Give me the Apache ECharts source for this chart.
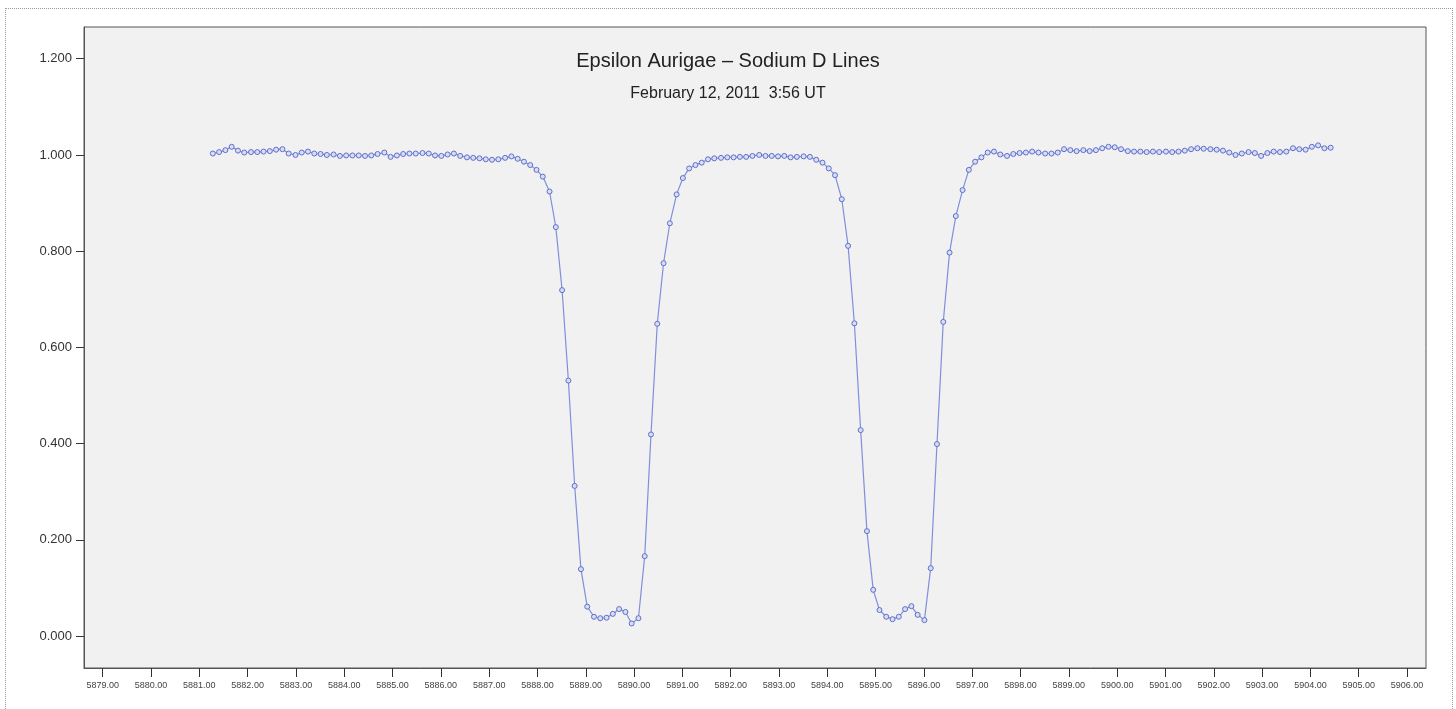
<!DOCTYPE html>
<html>
<head>
<meta charset="utf-8">
<script src="https://cdn.jsdelivr.net/npm/echarts@6/dist/echarts.min.js"></script>
<style>
  html, body { margin: 0; padding: 0; background: #ffffff; }
  #chart { position: absolute; left: 0; top: 0; width: 1456px; height: 709px; }
  #frame { position: absolute; left: 5px; top: 8px; width: 1446px; height: 705px; border: 1px dotted #9a9a9a; pointer-events: none; }
</style>
</head>
<body>
<div id="chart"></div>
<div id="frame"></div>
<script>
const titleText = 'Epsilon Aurigae – Sodium D Lines';
const subtitleText = 'February 12, 2011  3:56 UT';

const xTicks = [5879, 5880, 5881, 5882, 5883, 5884, 5885, 5886, 5887, 5888, 5889, 5890, 5891, 5892, 5893,
  5894, 5895, 5896, 5897, 5898, 5899, 5900, 5901, 5902, 5903, 5904, 5905, 5906];
const yTicks = [0, 0.2, 0.4, 0.6, 0.8, 1.0, 1.2];

const wavelengths = [
  5881.28, 5881.41, 5881.54, 5881.67, 5881.80, 5881.93, 5882.07, 5882.20, 5882.33, 5882.46,
  5882.59, 5882.72, 5882.85, 5882.99, 5883.12, 5883.25, 5883.38, 5883.51, 5883.64, 5883.78,
  5883.91, 5884.04, 5884.17, 5884.30, 5884.43, 5884.56, 5884.69, 5884.83, 5884.96, 5885.09,
  5885.22, 5885.35, 5885.48, 5885.62, 5885.75, 5885.88, 5886.01, 5886.14, 5886.27, 5886.40,
  5886.54, 5886.67, 5886.80, 5886.93, 5887.06, 5887.19, 5887.33, 5887.46, 5887.59, 5887.72,
  5887.85, 5887.98, 5888.11, 5888.25, 5888.38, 5888.51, 5888.64, 5888.77, 5888.90, 5889.03,
  5889.17, 5889.30, 5889.43, 5889.56, 5889.69, 5889.82, 5889.95, 5890.09, 5890.22, 5890.35,
  5890.48, 5890.61, 5890.74, 5890.88, 5891.01, 5891.14, 5891.27, 5891.40, 5891.53, 5891.66,
  5891.80, 5891.93, 5892.06, 5892.19, 5892.32, 5892.45, 5892.59, 5892.72, 5892.85, 5892.98,
  5893.11, 5893.24, 5893.37, 5893.51, 5893.64, 5893.77, 5893.90, 5894.03, 5894.16, 5894.30,
  5894.43, 5894.56, 5894.69, 5894.82, 5894.95, 5895.08, 5895.22, 5895.35, 5895.48, 5895.61,
  5895.74, 5895.87, 5896.01, 5896.14, 5896.27, 5896.40, 5896.53, 5896.66, 5896.80, 5896.93,
  5897.06, 5897.19, 5897.32, 5897.45, 5897.58, 5897.72, 5897.85, 5897.98, 5898.11, 5898.24,
  5898.37, 5898.51, 5898.64, 5898.77, 5898.90, 5899.03, 5899.16, 5899.30, 5899.43, 5899.56,
  5899.69, 5899.82, 5899.95, 5900.08, 5900.22, 5900.35, 5900.48, 5900.61, 5900.74, 5900.87,
  5901.01, 5901.14, 5901.27, 5901.40, 5901.53, 5901.66, 5901.79, 5901.93, 5902.06, 5902.19,
  5902.32, 5902.45, 5902.58, 5902.72, 5902.85, 5902.98, 5903.11, 5903.24, 5903.37, 5903.50,
  5903.64, 5903.77, 5903.90, 5904.03, 5904.16, 5904.29, 5904.42
];

const intensity = [
  1.003, 1.006, 1.010, 1.017, 1.009, 1.005, 1.006, 1.006, 1.007, 1.008,
  1.011, 1.012, 1.003, 1.000, 1.005, 1.007, 1.003, 1.002, 1.000, 1.001,
  0.998, 0.999, 0.999, 0.999, 0.998, 0.999, 1.002, 1.005, 0.996, 0.999,
  1.002, 1.003, 1.003, 1.004, 1.003, 0.999, 0.998, 1.001, 1.003, 0.998,
  0.995, 0.994, 0.993, 0.991, 0.990, 0.991, 0.994, 0.997, 0.992, 0.986,
  0.979, 0.969, 0.955, 0.924, 0.850, 0.719, 0.531, 0.312, 0.139, 0.061,
  0.040, 0.037, 0.038, 0.046, 0.056, 0.050, 0.026, 0.037, 0.166, 0.419,
  0.649, 0.775, 0.858, 0.918, 0.952, 0.972, 0.979, 0.984, 0.991, 0.993,
  0.994, 0.995, 0.995, 0.996, 0.996, 0.998, 1.000, 0.998, 0.998, 0.997,
  0.998, 0.995, 0.996, 0.997, 0.996, 0.990, 0.984, 0.972, 0.958, 0.908,
  0.811, 0.650, 0.428, 0.218, 0.096, 0.054, 0.040, 0.035, 0.040, 0.056,
  0.062, 0.044, 0.033, 0.141, 0.399, 0.653, 0.797, 0.873, 0.927, 0.969,
  0.986, 0.995, 1.005, 1.007, 1.001, 0.998, 1.002, 1.004, 1.005, 1.007,
  1.005, 1.003, 1.003, 1.005, 1.012, 1.010, 1.008, 1.010, 1.008, 1.010,
  1.014, 1.017, 1.016, 1.012, 1.008, 1.007, 1.007, 1.006, 1.007, 1.006,
  1.007, 1.006, 1.007, 1.009, 1.012, 1.014, 1.013, 1.012, 1.011, 1.009,
  1.005, 1.000, 1.003, 1.006, 1.004, 0.998, 1.004, 1.007, 1.006, 1.007,
  1.014, 1.012, 1.011, 1.017, 1.020, 1.014, 1.015
];

const seriesData = wavelengths.map((w, i) => [w, intensity[i]]);

const chart = echarts.init(document.getElementById('chart'), null, { renderer: 'canvas' });
chart.setOption({
  animation: false,
  backgroundColor: '#ffffff',
  title: [
    {
      text: titleText, left: 'center', top: 51, padding: 0,
      textStyle: { fontFamily: 'Liberation Sans, Arial, sans-serif', fontSize: 20, fontWeight: 'normal', color: '#222' }
    },
    {
      text: subtitleText, left: 'center', top: 86, padding: 0,
      textStyle: { fontFamily: 'Liberation Sans, Arial, sans-serif', fontSize: 16, fontWeight: 'normal', color: '#222' }
    }
  ],
  grid: {
    left: 84, right: 30, top: 27, bottom: 41,
    show: true, backgroundColor: '#f1f1f1', borderColor: '#555', borderWidth: 1
  },
  xAxis: {
    type: 'value',
    min: 5878.613, max: 5906.393,
    axisLine: { show: true, onZero: false, lineStyle: { color: '#555', width: 1 } },
    axisTick: { show: true, customValues: xTicks, length: 9, lineStyle: { color: '#333' } },
    axisLabel: {
      customValues: xTicks, margin: 13,
      fontFamily: 'Liberation Sans, Arial, sans-serif', fontSize: 9, color: '#444',
      formatter: v => Number(v).toFixed(2)
    },
    splitLine: { show: false }
  },
  yAxis: {
    type: 'value',
    min: -0.0665, max: 1.266,
    axisLine: { show: true, onZero: false, lineStyle: { color: '#555', width: 1 } },
    axisTick: { show: true, customValues: yTicks, length: 8, lineStyle: { color: '#333' } },
    axisLabel: {
      customValues: yTicks, margin: 12,
      fontFamily: 'Liberation Sans, Arial, sans-serif', fontSize: 13, color: '#333',
      formatter: v => Number(v).toFixed(3)
    },
    splitLine: { show: false }
  },
  series: [{
    type: 'line',
    data: seriesData,
    symbol: 'circle',
    symbolSize: 5,
    showSymbol: true,
    lineStyle: { color: '#7f8fdc', width: 1.2 },
    itemStyle: { color: '#d8ddf5', borderColor: '#5f70c9', borderWidth: 1 }
  }]
});
</script>
</body>
</html>
